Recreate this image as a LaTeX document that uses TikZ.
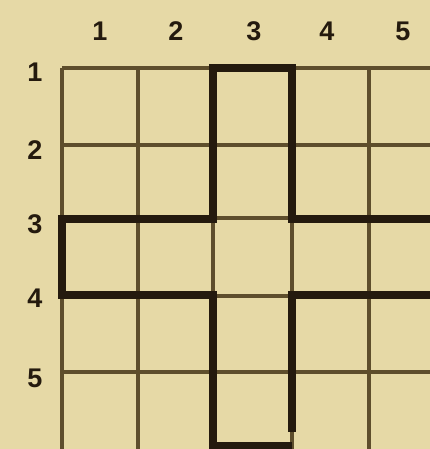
\documentclass[tikz,border=0pt]{standalone}
\usepackage{fontspec}
\setmainfont{Liberation Sans}
\definecolor{paper}{HTML}{E6D9A6}
\definecolor{inkthin}{HTML}{5E4E2C}
\definecolor{inkthick}{HTML}{241A0E}
\begin{document}
\begin{tikzpicture}[x=1pt, y=-1pt,
    gridline/.style={draw=inkthin, line width=3.6pt},
    outline/.style={draw=inkthick, line width=8.5pt, line join=miter},
    numlabel/.style={text=inkthick, font=\fontsize{27}{27}\selectfont\bfseries, inner sep=0pt}
  ]
    \fill[paper] (0,0) rectangle (430,449);
    \useasboundingbox (0,0) rectangle (430,449);
    % thin grid
    \foreach \x in {62,138,213,292,369}
      \draw[gridline] (\x,68) -- (\x,449);
    \foreach \y in {68,145,218,296,372}
      \draw[gridline] (62,\y) -- (430,\y);
    % column and row numbers
    \foreach \x/\n in {100/1, 176/2, 254/3, 327/4, 403/5}
      \node[numlabel] (col\n) at (\x,31) {\n};
    \foreach \y/\n in {72/1, 150/2, 224/3, 298/4, 378/5}
      \node[numlabel] (row\n) at (35,\y) {\n};
    % thick cross
    \draw[outline] (430,219) -- (292,219) -- (292,68) -- (213,68) -- (213,219)
      -- (62,219) -- (62,295) -- (213,295) -- (213,449);
    \draw[outline] (213,446) -- (292,446);
    \draw[outline] (430,295) -- (292,295) -- (292,432);
  \end{tikzpicture}
\end{document}
